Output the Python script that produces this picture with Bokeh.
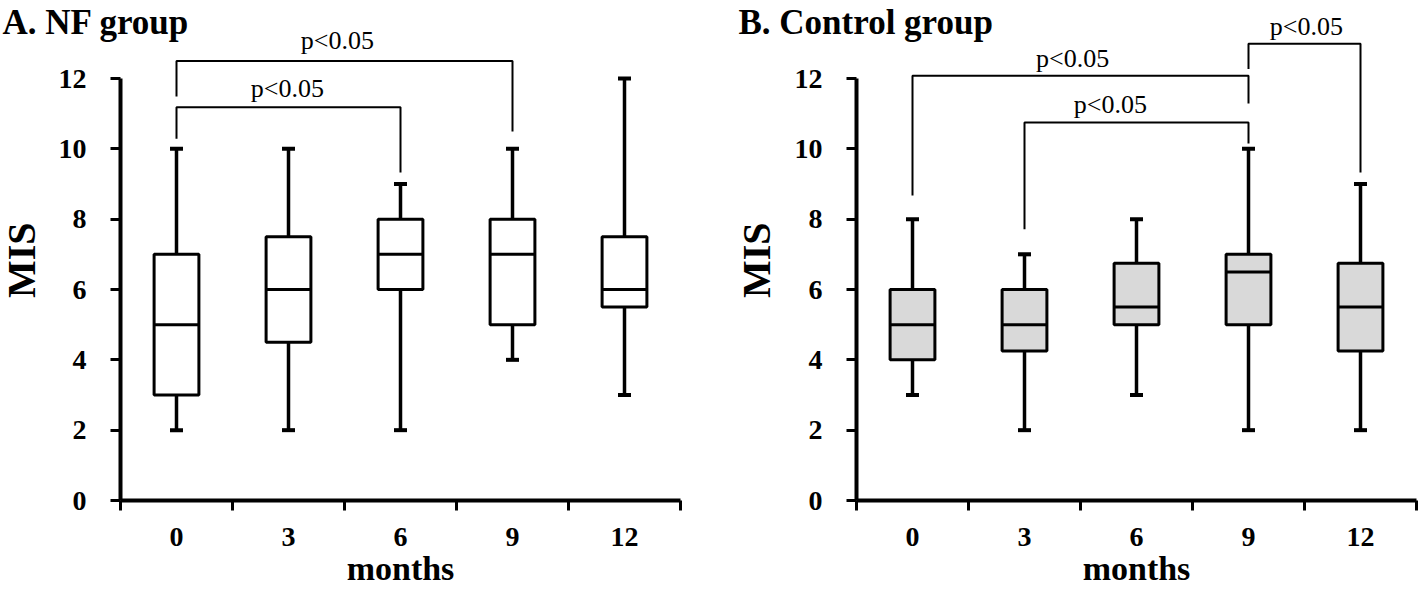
import math
from bokeh.plotting import figure
from bokeh.layouts import row
from bokeh.models import Range1d, FixedTicker, Label, ColumnDataSource
from bokeh.embed import file_html
from bokeh.resources import INLINE
from bokeh.core.properties import value

# ---------------- data ----------------
months = [0, 3, 6, 9, 12]
y_ticks = [0, 2, 4, 6, 8, 10, 12]

nf_min = [2, 2, 2, 4, 3]
nf_q1 = [3, 4.5, 6, 5, 5.5]
nf_med = [5, 6, 7, 7, 6]
nf_q3 = [7, 7.5, 8, 8, 7.5]
nf_max = [10, 10, 9, 10, 12]

ctl_min = [3, 2, 3, 2, 2]
ctl_q1 = [4, 4.25, 5, 5, 4.25]
ctl_med = [5, 5, 5.5, 6.5, 5.5]
ctl_q3 = [6, 6, 6.75, 7, 6.75]
ctl_max = [8, 7, 8, 10, 9]

# significance brackets (month from, month to, bracket height, leg ends, label position)
nf_sig_from = [0, 0]
nf_sig_to = [9, 6]
nf_sig_top = [12.5, 11.18]
nf_sig_left_end = [11.49, 10.29]
nf_sig_right_end = [10.49, 9.33]
nf_sig_text = ["p<0.05", "p<0.05"]
nf_sig_text_x = [4.31, 2.97]
nf_sig_text_y = [13.08, 11.72]

ctl_sig_from = [0, 3, 9]
ctl_sig_to = [9, 9, 12]
ctl_sig_top = [12.08, 10.75, 12.99]
ctl_sig_left_end = [8.67, 7.71, 12.27]
ctl_sig_right_end = [11.29, 10.15, 9.33]
ctl_sig_text = ["p<0.05", "p<0.05", "p<0.05"]
ctl_sig_text_x = [4.29, 5.30, 10.55]
ctl_sig_text_y = [12.58, 11.25, 13.48]

SERIF = "Liberation Serif"
STEP = 3.0              # month spacing
BOX_HALF = 0.6          # half box width (data units)
CAP_HALF = 0.174        # half cap width
PX_X = 112 / STEP       # pixels per x unit
PX_Y = 422 / 12.0       # pixels per y unit
AXIS_X = months[0] - STEP / 2
AXIS_END = months[-1] + STEP / 2


def panel(title, mn, q1, med, q3, mx, fill, sf, st, stop, sle, sre, stxt, stx, sty,
          width, axis_px, mis_x):
    x0 = AXIS_X - axis_px / PX_X
    x1 = AXIS_X + (width - axis_px) / PX_X
    p = figure(width=width, height=590, output_backend="svg", toolbar_location=None,
               x_range=Range1d(x0, x1),
               y_range=Range1d(-90 / PX_Y, 500 / PX_Y),
               min_border_left=0, min_border_right=0,
               min_border_top=0, min_border_bottom=0)
    p.xgrid.visible = False
    p.ygrid.visible = False
    p.outline_line_color = None
    p.background_fill_color = "white"
    p.border_fill_color = "white"

    # x axis
    xa = p.xaxis[0]
    xa.fixed_location = 0
    xa.ticker = FixedTicker(ticks=months,
                            minor_ticks=[m - STEP / 2 for m in months] + [AXIS_END])
    xa.axis_line_color = None
    xa.major_tick_out = 0
    xa.major_tick_in = 0
    xa.minor_tick_out = 10
    xa.minor_tick_in = 0
    xa.minor_tick_line_width = 3
    xa.minor_tick_line_color = "black"
    xa.major_label_standoff = 17
    xa.major_label_text_font = SERIF
    xa.major_label_text_font_style = "bold"
    xa.major_label_text_font_size = "28px"
    xa.major_label_text_color = "black"

    # y axis
    ya = p.yaxis[0]
    ya.fixed_location = AXIS_X
    ya.ticker = FixedTicker(ticks=y_ticks)
    ya.axis_line_color = None
    ya.major_tick_out = 10
    ya.major_tick_in = 0
    ya.major_tick_line_width = 3
    ya.major_tick_line_color = "black"
    ya.minor_tick_out = 0
    ya.minor_tick_in = 0
    ya.major_label_standoff = 24
    ya.major_label_text_font = SERIF
    ya.major_label_text_font_style = "bold"
    ya.major_label_text_font_size = "28px"
    ya.major_label_text_color = "black"

    # axis spines
    p.segment(x0=[AXIS_X], x1=[AXIS_X], y0=[min(y_ticks)], y1=[max(y_ticks)],
              line_width=4, line_color="black")
    p.segment(x0=[AXIS_X], x1=[AXIS_END], y0=[0], y1=[0],
              line_width=4, line_color="black")

    src = ColumnDataSource(dict(
        m=months, mn=mn, q1=q1, med=med, q3=q3, mx=mx,
        left=[m - BOX_HALF for m in months], right=[m + BOX_HALF for m in months],
        cl=[m - CAP_HALF for m in months], cr=[m + CAP_HALF for m in months]))

    # whiskers
    p.segment(x0="m", x1="m", y0="q3", y1="mx", source=src, line_width=3.5, line_color="black")
    p.segment(x0="m", x1="m", y0="mn", y1="q1", source=src, line_width=3.5, line_color="black")
    # caps
    p.segment(x0="cl", x1="cr", y0="mx", y1="mx", source=src, line_width=4, line_color="black")
    p.segment(x0="cl", x1="cr", y0="mn", y1="mn", source=src, line_width=4, line_color="black")
    # boxes
    p.quad(left="left", right="right", bottom="q1", top="q3", source=src,
           fill_color=fill, line_color="black", line_width=3)
    p.segment(x0="left", x1="right", y0="med", y1="med", source=src,
              line_width=3, line_color="black")

    # significance brackets
    xs = [[a, a, b, b] for a, b in zip(sf, st)]
    ys = [[le, t, t, re] for le, t, re in zip(sle, stop, sre)]
    p.multi_line(xs=xs, ys=ys, line_width=2, line_color="black")
    p.text(x=stx, y=sty, text=stxt, text_font=value(SERIF), text_font_size="26px",
           text_align="center", text_baseline="middle", text_color="black")

    # panel title, y label, x label
    p.add_layout(Label(x=AXIS_X - 118 / PX_X, y=(500 - 22) / PX_Y, text=title,
                       text_font=SERIF, text_font_style="bold", text_font_size="35px",
                       text_align="left", text_baseline="alphabetic", text_color="black"))
    p.add_layout(Label(x=mis_x, y=6.83, text="MIS", text_font=SERIF, angle=math.pi / 2,
                       text_font_style="bold", text_font_size="40px",
                       text_align="center", text_baseline="alphabetic", text_color="black"))
    p.add_layout(Label(x=(months[0] + months[-1]) / 2, y=-68 / PX_Y, text="months",
                       text_font=SERIF, text_font_style="bold", text_font_size="34px",
                       text_align="center", text_baseline="alphabetic", text_color="black"))
    return p


p1 = panel("A. NF group", nf_min, nf_q1, nf_med, nf_q3, nf_max, "white",
           nf_sig_from, nf_sig_to, nf_sig_top, nf_sig_left_end, nf_sig_right_end,
           nf_sig_text, nf_sig_text_x, nf_sig_text_y,
           700, 120, AXIS_X - 99 / PX_X)
p2 = panel("B. Control group", ctl_min, ctl_q1, ctl_med, ctl_q3, ctl_max, "#d9d9d9",
           ctl_sig_from, ctl_sig_to, ctl_sig_top, ctl_sig_left_end, ctl_sig_right_end,
           ctl_sig_text, ctl_sig_text_x, ctl_sig_text_y,
           720, 156, AXIS_X - 100 / PX_X)

layout = row(p1, p2)

open("out.html", "w").write(file_html(layout, INLINE))
